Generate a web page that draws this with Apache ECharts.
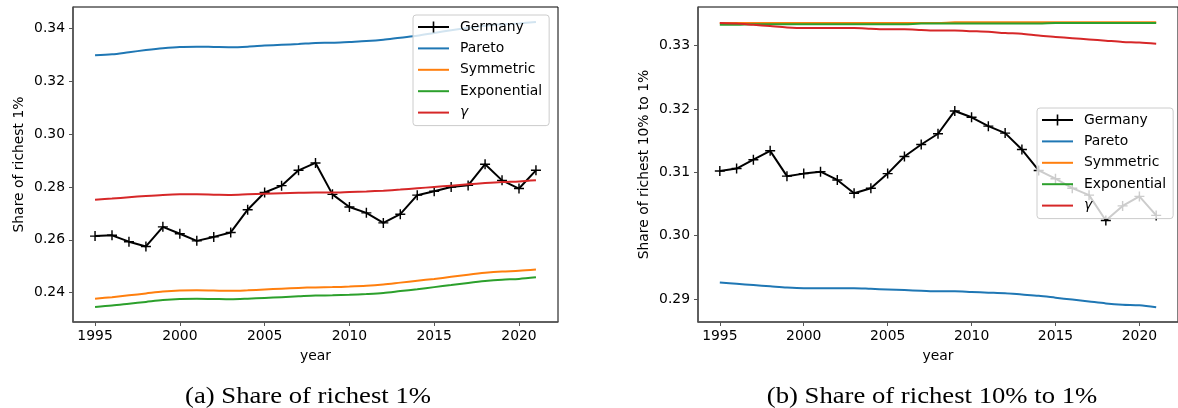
<!DOCTYPE html>
<html><head><meta charset="utf-8">
<script src="https://cdn.jsdelivr.net/npm/echarts@6/dist/echarts.min.js"></script>
<style>html,body{margin:0;padding:0;background:#fff}#c{width:1178px;height:408px}</style>
</head><body><div id="c"></div>
<script>
const years = [1995,1996,1997,1998,1999,2000,2001,2002,2003,2004,2005,2006,2007,2008,2009,2010,2011,2012,2013,2014,2015,2016,2017,2018,2019,2020,2021];
const xTicks = [1995,2000,2005,2010,2015,2020];

// (a) Share of richest 1%
const topGermany = [0.2614,0.2617,0.2593,0.2575,0.2649,0.2623,0.2596,0.2611,0.2628,0.2714,0.2779,0.2805,0.2863,0.2891,0.2772,0.2724,0.2702,0.2664,0.2697,0.2769,0.2784,0.2800,0.2806,0.2886,0.2825,0.2794,0.2863];
const topPareto = [0.3298,0.3302,0.3310,0.3318,0.3325,0.3330,0.3331,0.3330,0.3329,0.3331,0.3335,0.3338,0.3341,0.3345,0.3346,0.3349,0.3352,0.3357,0.3365,0.3372,0.3383,0.3393,0.3402,0.3410,0.3415,0.3419,0.3424];
const topSymmetric = [0.2377,0.2383,0.2390,0.2397,0.2404,0.2408,0.2409,0.2408,0.2407,0.2409,0.2412,0.2415,0.2418,0.2420,0.2421,0.2423,0.2426,0.2431,0.2438,0.2445,0.2452,0.2460,0.2468,0.2475,0.2480,0.2483,0.2488];
const topExponential = [0.2346,0.2351,0.2358,0.2365,0.2372,0.2376,0.2377,0.2376,0.2375,0.2377,0.2380,0.2383,0.2386,0.2389,0.2390,0.2392,0.2395,0.2399,0.2406,0.2413,0.2421,0.2429,0.2437,0.2444,0.2449,0.2452,0.2458];
const topGamma = [0.2752,0.2756,0.2761,0.2766,0.2770,0.2772,0.2772,0.2771,0.2770,0.2772,0.2774,0.2776,0.2778,0.2779,0.2779,0.2781,0.2783,0.2786,0.2790,0.2795,0.2800,0.2805,0.2810,0.2815,0.2819,0.2821,0.2825];
const yTicksA = [0.24,0.26,0.28,0.30,0.32,0.34];

// (b) Share of richest 10% to 1%
const midGermany = [0.3102,0.3106,0.3120,0.3134,0.3094,0.3098,0.3101,0.3088,0.3067,0.3075,0.3098,0.3125,0.3144,0.3161,0.3197,0.3187,0.3173,0.3162,0.3136,0.3103,0.3090,0.3075,0.3064,0.3024,0.3047,0.3062,0.3032];
const midPareto = [0.2926,0.2924,0.2922,0.2920,0.2918,0.2917,0.2917,0.2917,0.2917,0.2916,0.2915,0.2914,0.2913,0.2912,0.2912,0.2911,0.2910,0.2909,0.2907,0.2905,0.2902,0.2899,0.2896,0.2893,0.2891,0.2890,0.2887];
const midSymmetric = [0.3336,0.3336,0.3336,0.3336,0.3336,0.3336,0.3336,0.3336,0.3336,0.3336,0.3336,0.3336,0.3336,0.3336,0.3337,0.3337,0.3337,0.3337,0.3337,0.3337,0.3337,0.3337,0.3337,0.3337,0.3337,0.3337,0.3337];
const midExponential = [0.3333,0.3333,0.3334,0.3334,0.3334,0.3334,0.3334,0.3334,0.3334,0.3334,0.3334,0.3334,0.3335,0.3335,0.3335,0.3335,0.3335,0.3335,0.3335,0.3335,0.3336,0.3336,0.3336,0.3336,0.3336,0.3336,0.3336];
const midGamma = [0.3336,0.3335,0.3333,0.3331,0.3329,0.3328,0.3328,0.3328,0.3328,0.3327,0.3326,0.3326,0.3325,0.3324,0.3324,0.3323,0.3322,0.3320,0.3319,0.3316,0.3314,0.3312,0.3310,0.3308,0.3306,0.3305,0.3303];
const yTicksB = [0.29,0.30,0.31,0.32,0.33];

const names = ['Germany','Pareto','Symmetric','Exponential','γ'];
const colors = ['#000000','#1f77b4','#ff7f0e','#2ca02c','#d62728'];
const FONT = 'DejaVu Sans';
const plusPath = 'path://M6,0h2v14h-2zM0,6h14v2h-14z';
const lineIcon = 'path://M0,0h31v2h-31z';

function pairs(vals){ return years.map((y,i)=>[y, vals[i]]); }

function xAxis(gi){
  return {
    type:'value', gridIndex:gi, min:1993.7, max:2022.3,
    name:'year', nameLocation:'middle', nameGap:27,
    nameTextStyle:{fontFamily:FONT,fontSize:13.9,color:'#000'},
    axisLine:{show:true,onZero:false,lineStyle:{color:'#555',width:1.5}},
    axisTick:{show:true,length:4,customValues:xTicks,lineStyle:{color:'#555',width:1}},
    axisLabel:{customValues:xTicks,margin:7,fontFamily:FONT,fontSize:13.9,color:'#000',formatter:v=>String(v)},
    splitLine:{show:false}
  };
}
function yAxis(gi,min,max,ticks,name){
  return {
    type:'value', gridIndex:gi, min:min, max:max,
    name:name, nameLocation:'middle', nameGap:47, nameRotate:90,
    nameTextStyle:{fontFamily:FONT,fontSize:13.9,color:'#000'},
    axisLine:{show:true,onZero:false,lineStyle:{color:'#555',width:1.5}},
    axisTick:{show:true,length:4,customValues:ticks,lineStyle:{color:'#555',width:1}},
    axisLabel:{customValues:ticks,margin:8,fontFamily:FONT,fontSize:13.9,color:'#000',formatter:v=>v.toFixed(2)},
    splitLine:{show:false}
  };
}
function seriesFor(gi,arrs){
  return arrs.map((a,i)=>({
    type:'line', name:names[i], xAxisIndex:gi, yAxisIndex:gi,
    data:pairs(a),
    showSymbol: i===0, symbol: i===0 ? plusPath : 'none', symbolSize: 10,
    itemStyle:{color:colors[i]},
    lineStyle:{color:colors[i],width:2},
    smooth: i===0 ? false : 0.3,
    animation:false, z:2+i
  }));
}
function legend(left,top){
  return {
    orient:'vertical', left:left, top:top,
    data:names.map((n,i)=> i===0 ? {name:n} : {name:n, icon:lineIcon}),
    itemWidth:31, itemHeight:14, itemGap:7.4,
    padding:[5,7,6,4],
    backgroundColor:'rgba(255,255,255,0.8)', borderColor:'#cccccc', borderWidth:1, borderRadius:3,
    textStyle:{fontFamily:FONT,fontSize:13.9,color:'#000',padding:[0,0,0,6],
      rich:{g:{fontFamily:'DejaVu Sans',fontStyle:'italic',fontSize:13.9,color:'#000'}}},
    formatter: n => n==='γ' ? '{g|γ}' : n,
    selectedMode:false
  };
}

const chart = echarts.init(document.getElementById('c'),null,{renderer:'canvas'});
chart.setOption({
  backgroundColor:'#fff',
  animation:false,
  grid:[
    {left:73,top:7,width:485,height:315,show:true,borderColor:'#000',borderWidth:1,backgroundColor:'transparent'},
    {left:698,top:7,width:480,height:315,show:true,borderColor:'#000',borderWidth:1,backgroundColor:'transparent'}
  ],
  xAxis:[xAxis(0),xAxis(1)],
  yAxis:[yAxis(0,0.2289,0.3481,yTicksA,'Share of richest 1%'),
         yAxis(1,0.28636,0.33612,yTicksB,'Share of richest 10% to 1%')],
  legend:[legend(413,15),legend(1037,108)],
  series:[...seriesFor(0,[topGermany,topPareto,topSymmetric,topExponential,topGamma]),
          ...seriesFor(1,[midGermany,midPareto,midSymmetric,midExponential,midGamma])],
  graphic:[
    {type:'text',x:308,y:397,scaleX:1.16,style:{text:'(a) Share of richest 1%',font:'23px "Liberation Serif"',fill:'#000',x:0,y:0,align:'center',verticalAlign:'middle'}},
    {type:'text',x:932,y:397,scaleX:1.16,style:{text:'(b) Share of richest 10% to 1%',font:'23px "Liberation Serif"',fill:'#000',x:0,y:0,align:'center',verticalAlign:'middle'}}
  ]
});
</script></body></html>
